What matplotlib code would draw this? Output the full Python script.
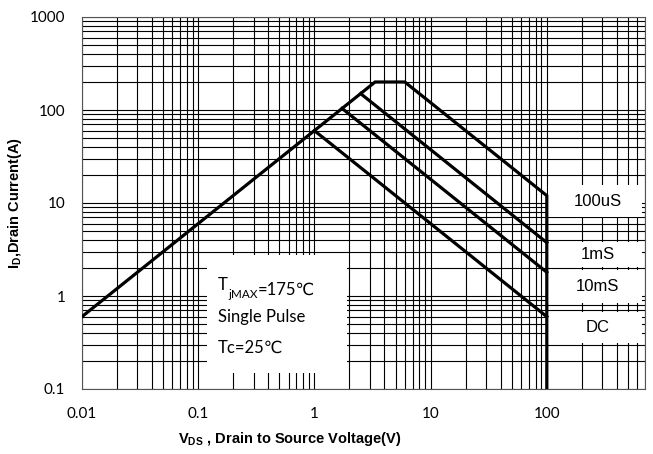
import numpy as np
import matplotlib
matplotlib.use("Agg")
from matplotlib import pyplot as plt
from matplotlib.patches import Rectangle

plt.rcParams['mathtext.fontset'] = 'custom'
plt.rcParams['mathtext.rm'] = 'Liberation Sans'
plt.rcParams['mathtext.bf'] = 'Liberation Sans:bold'

###
# Safe operating area
vds_100us = [0.01, 3.33, 6.0, 100, 100]
id_100us = [0.6, 200, 200, 12.0, 0.1]
vds_1ms = [2.5, 100]
id_1ms = [150, 3.75]
vds_10ms = [1.73, 100]
id_10ms = [104, 1.8]
vds_dc = [1.0, 100]
id_dc = [60, 0.6]
curve_labels = ["100uS", "1mS", "10mS", "DC"]
xticks = [0.01, 0.1, 1, 10, 100]
xticklabels = ["0.01", "0.1", "1", "10", "100"]
yticks = [0.1, 1, 10, 100, 1000]
yticklabels = ["0.1", "1", "10", "100", "1000"]

fig = plt.figure(figsize=(6.53, 4.54), dpi=100)
ax = fig.add_axes([82/653, 1-389/454, 563/653, 372/454])
ax.set_xscale('log'); ax.set_yscale('log')
ax.set_xlim(0.01, 700); ax.set_ylim(0.1, 1000)

ax.grid(True, which='both', color='black', lw=0.8)
ax.set_axisbelow(True)
for s in ax.spines.values():
    s.set_color('#555555'); s.set_linewidth(0.8)

lw = 2.3
for x, y in [(vds_100us, id_100us), (vds_1ms, id_1ms), (vds_10ms, id_10ms), (vds_dc, id_dc)]:
    ax.plot(x, y, color='black', lw=lw, solid_joinstyle='miter', zorder=4)

ax.set_xticks(xticks); ax.set_xticklabels(xticklabels)
ax.set_yticks(yticks); ax.set_yticklabels(yticklabels)
ax.tick_params(axis='x', which='both', length=0, labelsize=11, pad=13)
ax.tick_params(axis='y', which='both', length=0, labelsize=11, pad=12)
for t in ax.get_xticklabels() + ax.get_yticklabels():
    t.set_family('Lato')

ax.set_xlabel(r"V$_\mathbf{DS}$ , Drain to Source Voltage(V)", family='Liberation Sans',
              fontweight='bold', fontsize=10.5)
ax.xaxis.set_label_coords((290-82)/563, -(430-389)/372)
ax.set_ylabel(r"I$_\mathbf{D}$,Drain Current(A)", family='Liberation Sans', fontweight='bold',
              fontsize=10.5, labelpad=4)

# conditions box
def px2ax(x, y):
    return (x-82)/563, (389-y)/372

x0, y0 = px2ax(207, 373); x1, y1 = px2ax(347, 255)
ax.add_patch(Rectangle((x0, y0), x1-x0, y1-y0, transform=ax.transAxes, fc='white', ec='none', zorder=2))
tx, _ = px2ax(218, 0)
fam = ['Lato', 'DejaVu Sans']
t1 = ax.text(tx, px2ax(0, 290)[1], "T", transform=ax.transAxes, ha='left', va='baseline',
             fontsize=12, family=fam, zorder=5)
t2 = ax.annotate("jMAX", xy=(1, 0), xycoords=t1, xytext=(0.5, -3.5), textcoords='offset points',
                 ha='left', va='baseline', fontsize=8.5, family=fam, zorder=5)
ax.annotate("=175℃", xy=(1, 0), xycoords=t2, xytext=(0, 3.5), textcoords='offset points',
            ha='left', va='baseline', fontsize=12, family=fam, zorder=5)
for txt, ypx in [("Single Pulse", 322), ("Tc=25℃", 353)]:
    ax.text(tx, px2ax(0, ypx)[1], txt, transform=ax.transAxes, ha='left', va='baseline',
            fontsize=12, family=fam, zorder=5)

# curve labels on the right
boxes = [(185, 217), (242, 267), (270, 303), (312, 343)]
for lab, (ytop, ybot) in zip(curve_labels, boxes):
    bx0, by0 = px2ax(548, ybot); bx1, by1 = px2ax(642, ytop)
    ax.add_patch(Rectangle((bx0, by0), bx1-bx0, by1-by0, transform=ax.transAxes, fc='white', ec='none', zorder=2))
    ax.text((bx0+bx1)/2+0.005, (by0+by1)/2, lab, transform=ax.transAxes, ha='center', va='center',
            fontsize=12, family='Liberation Sans', zorder=5)

plt.savefig("out.png", dpi=100)
